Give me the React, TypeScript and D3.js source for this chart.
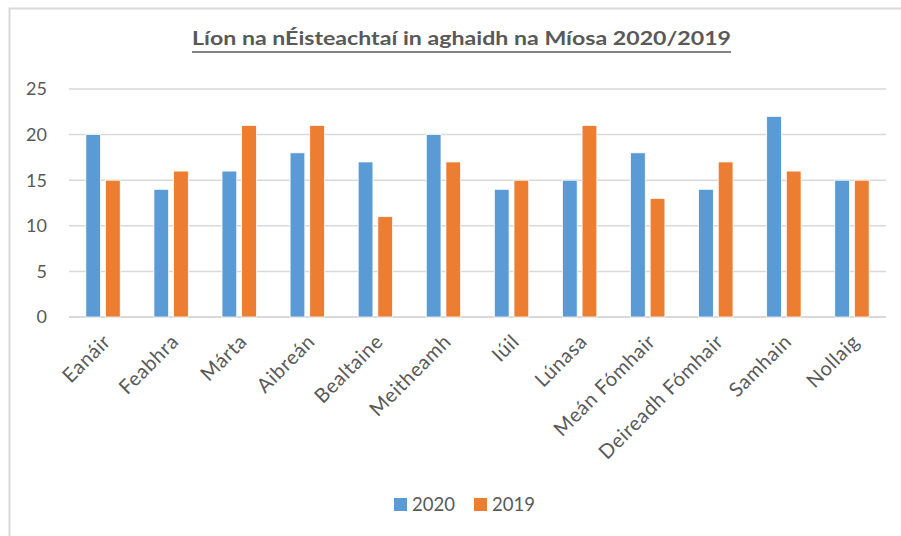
import React from "react";
import * as d3 from "d3";

const months = ["Eanáir", "Feabhra", "Márta", "Aibreán", "Bealtaine", "Meitheamh", "Iúil", "Lúnasa", "Meán Fómhair", "Deireadh Fómhair", "Samhain", "Nollaig"];
const seriesNames = ["2020", "2019"];
const values2020 = [20, 14, 16, 18, 17, 20, 14, 15, 18, 14, 22, 15];
const values2019 = [15, 16, 21, 21, 11, 17, 15, 21, 13, 17, 16, 15];
const yTicks = [0, 5, 10, 15, 20, 25];
const colors = ["#5B9BD5", "#ED7D31"];
const title = "Líon na nÉisteachtaí in aghaidh na Míosa 2020/2019";

const W = 901, H = 536;
const FONT = "Lato, 'Open Sans', sans-serif";
const TXT = "#595959";

export default function App() {
  const x0 = d3.scaleBand<string>().domain(months).range([69, 886]).padding(0);
  const groupW = x0.step() * 0.505;
  const x1 = d3.scaleBand<string>().domain(seriesNames).range([0, groupW]).paddingInner(0.25);
  const y = d3.scaleLinear().domain([0, 25]).range([317, 89]);
  const data = [values2020, values2019];

  return (
    <svg width={W} height={H} style={{ position: "absolute", left: 0, top: 0, background: "#fff" }} fontFamily={FONT}>
      <rect x={0} y={0} width={W} height={H} fill="#fff" />
      <rect x={9.5} y={8.5} width={1000} height={1000} fill="none" stroke="#d9d9d9" strokeWidth={2} />
      <text x={192} y={45} textAnchor="start" fontWeight="bold" fontSize={18.5} fill={TXT} textLength={539} lengthAdjust="spacingAndGlyphs">{title}</text>
      <line x1={192} x2={731} y1={52} y2={52} stroke={TXT} strokeWidth={1.3} />
      {yTicks.map((t) => (
        <g key={t}>
          <line x1={69} x2={886} y1={y(t)} y2={y(t)} stroke="#d9d9d9" strokeWidth={t === 0 ? 2 : 1.5} />
          <text x={47} y={y(t)} dy="0.36em" textAnchor="end" fontSize={18} fill={TXT}>{t}</text>
        </g>
      ))}
      {months.map((m, i) => {
        const gx = (x0(m) as number) + (x0.bandwidth() - groupW) / 2;
        return (
          <g key={m}>
            {seriesNames.map((s, si) => (
              <rect key={s} x={gx + (x1(s) as number)} y={y(data[si][i])} width={x1.bandwidth()} height={y(0) - y(data[si][i])} fill={colors[si]} stroke="#fff" strokeWidth={0.75} />
            ))}
          </g>
        );
      })}
      {months.map((m) => {
        const cx = (x0(m) as number) + x0.bandwidth() / 2;
        return (
          <text key={m} transform={`translate(${cx - 1},${333}) rotate(-45)`} textAnchor="end" dy="0.7em" fontSize={20} letterSpacing={0.6} fill={TXT}>{m}</text>
        );
      })}
      {seriesNames.map((s, i) => (
        <g key={s} transform={`translate(${i === 0 ? 394 : 474},498)`}>
          <rect x={0} y={0} width={13} height={13} fill={colors[i]} />
          <text x={18} y={6.5} dy="0.36em" fontSize={18.5} fill={TXT}>{s}</text>
        </g>
      ))}
    </svg>
  );
}
